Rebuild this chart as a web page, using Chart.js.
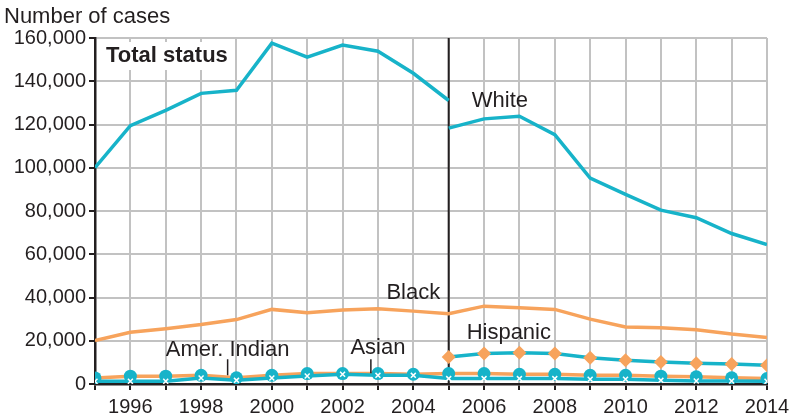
<!DOCTYPE html>
<html>
<head>
<meta charset="utf-8">
<script src="https://cdn.jsdelivr.net/npm/chart.js@4/dist/chart.umd.min.js"></script>
<style>
  html, body { margin: 0; padding: 0; background: #fff; }
  #wrap { width: 800px; height: 415px; }
</style>
</head>
<body>
<div id="wrap"><canvas id="casos"></canvas></div>
<script>
// Años del eje x
const years = [1995, 1996, 1997, 1998, 1999, 2000, 2001, 2002, 2003, 2004, 2005,
               2006, 2007, 2008, 2009, 2010, 2011, 2012, 2013, 2014];

// White: serie antigua (hasta 2005) y nueva (desde 2005)
const whiteOld = [100000, 119500, 126500, 134400, 135800, 157600, 151100, 156700, 153900, 143700, 131100,
                  null, null, null, null, null, null, null, null, null];
const whiteNew = [null, null, null, null, null, null, null, null, null, null, 118300,
                  122600, 123800, 115300, 95200, 87700, 80400, 76900, 69600, 64500];
const black = [20100, 23900, 25600, 27500, 29800, 34500, 32900, 34200, 34800, 33700, 32500,
               36000, 35300, 34500, 30000, 26400, 26000, 25100, 23100, 21500];
const hispanic = [null, null, null, null, null, null, null, null, null, null, 12500,
                  14100, 14400, 14100, 12100, 11000, 10200, 9600, 9300, 8700];
const asian = [2800, 3600, 3600, 4000, 2900, 4000, 4800, 4800, 4800, 4500, 4800,
               4800, 4500, 4500, 4000, 4000, 3600, 3300, 2900, 2500];
const amerIndian = [1250, 1250, 1250, 2800, 1700, 2800, 3700, 4500, 4000, 4000, 2500,
                    2500, 2500, 2500, 2200, 2200, 1700, 1400, 1400, 1250];

// Ticks del eje y
const yTicks = [0, 20000, 40000, 60000, 80000, 100000, 120000, 140000, 160000];

const cian = '#17b3c9';
const naranja = '#f7a35c';
const texto = '#231f20';

// Convierte una serie en puntos {x, y}
function puntos(vals) {
    return years.map((yr, i) => ({ x: yr, y: vals[i] })).filter(p => p.y !== null);
}

// Etiquetas de texto y línea de corte en 2005
const anotaciones = {
    id: 'anotaciones',
    beforeDatasetsDraw(chart) {
        const { ctx, chartArea, scales: { x, y } } = chart;
        // línea vertical del cambio de serie
        ctx.save();
        ctx.strokeStyle = texto;
        ctx.lineWidth = 2;
        ctx.beginPath();
        ctx.moveTo(x.getPixelForValue(2005), chartArea.top);
        ctx.lineTo(x.getPixelForValue(2005), chartArea.bottom);
        ctx.stroke();
        ctx.restore();
    },
    afterDraw(chart) {
        const { ctx, scales: { x, y } } = chart;
        ctx.save();
        ctx.fillStyle = texto;
        ctx.textBaseline = 'middle';
        ctx.textAlign = 'left';

        ctx.font = '22px "Liberation Sans", Arial, sans-serif';
        ctx.fillText('Number of cases', 4, 17);

        // "Total status" con fondo blanco
        ctx.font = 'bold 22px "Liberation Sans", Arial, sans-serif';
        const w = ctx.measureText('Total status').width;
        ctx.fillStyle = '#fff';
        ctx.fillRect(104, 42, w + 6, 28);
        ctx.fillStyle = texto;
        ctx.fillText('Total status', 106, 56);

        ctx.font = '22px "Liberation Sans", Arial, sans-serif';
        ctx.textAlign = 'center';
        ctx.fillText('White', x.getPixelForValue(2006.45), y.getPixelForValue(131000));
        ctx.fillText('Black', x.getPixelForValue(2004.0), y.getPixelForValue(42000));
        ctx.fillText('Hispanic', x.getPixelForValue(2006.7), y.getPixelForValue(23500));
        ctx.fillText('Amer. Indian', x.getPixelForValue(1998.75), y.getPixelForValue(15700));
        ctx.fillText('Asian', x.getPixelForValue(2003.0), y.getPixelForValue(16500));

        // líneas indicadoras
        ctx.strokeStyle = texto;
        ctx.lineWidth = 1.5;
        ctx.beginPath();
        ctx.moveTo(x.getPixelForValue(1998.75), y.getPixelForValue(11500));
        ctx.lineTo(x.getPixelForValue(1998.75), y.getPixelForValue(4000));
        ctx.moveTo(x.getPixelForValue(2002.8), y.getPixelForValue(11500));
        ctx.lineTo(x.getPixelForValue(2002.8), y.getPixelForValue(5000));
        ctx.stroke();
        ctx.restore();
    }
};

const datos = {
    datasets: [
        {
            label: 'Amer. Indian',
            data: puntos(amerIndian),
            borderColor: cian,
            borderWidth: 3.5,
            pointStyle: 'crossRot',
            pointRadius: 3.5,
            pointBorderColor: '#fff',
            pointBorderWidth: 1.5,
            order: 1
        },
        {
            label: 'Asian',
            data: puntos(asian),
            borderColor: naranja,
            borderWidth: 3.5,
            pointStyle: 'circle',
            pointRadius: 6.5,
            pointBackgroundColor: cian,
            pointBorderColor: cian,
            pointBorderWidth: 0,
            order: 2
        },
        {
            label: 'Hispanic',
            data: puntos(hispanic),
            borderColor: cian,
            borderWidth: 3.5,
            pointStyle: 'rectRot',
            pointRadius: 7,
            pointBackgroundColor: naranja,
            pointBorderColor: naranja,
            pointBorderWidth: 0,
            order: 3
        },
        {
            label: 'Black',
            data: puntos(black),
            borderColor: naranja,
            borderWidth: 3.5,
            pointRadius: 0,
            order: 4
        },
        {
            label: 'White (old)',
            data: puntos(whiteOld),
            borderColor: cian,
            borderWidth: 3.5,
            pointRadius: 0,
            order: 5
        },
        {
            label: 'White (new)',
            data: puntos(whiteNew),
            borderColor: cian,
            borderWidth: 3.5,
            pointRadius: 0,
            order: 5
        }
    ]
};

const opciones = {
    responsive: true,
    maintainAspectRatio: false,
    animation: false,
    layout: { padding: { top: 38, right: 33, left: 0, bottom: 0 } },
    plugins: {
        legend: { display: false },
        tooltip: { enabled: false }
    },
    elements: { line: { tension: 0 } },
    scales: {
        x: {
            type: 'linear',
            min: 1995,
            max: 2014,
            afterFit: (s) => { s.height = 31; },
            afterBuildTicks: (s) => { s.ticks = years.map(v => ({ value: v })); },
            ticks: {
                autoSkip: false,
                maxRotation: 0,
                color: texto,
                padding: 5,
                font: { size: 20, family: '"Liberation Sans", Arial, sans-serif' },
                callback: (v) => (v % 2 === 0 ? String(v) : '')
            },
            grid: { color: '#c2c2c2', lineWidth: 2, tickColor: texto, tickLength: 6, tickWidth: 2 },
            border: { color: texto, width: 2.5 }
        },
        y: {
            min: 0,
            max: 160000,
            afterFit: (s) => { s.width = 95; },
            afterBuildTicks: (s) => { s.ticks = yTicks.map(v => ({ value: v })); },
            ticks: {
                color: texto,
                padding: 3,
                font: { size: 20, family: '"Liberation Sans", Arial, sans-serif' },
                callback: (v) => v.toLocaleString('en-US')
            },
            grid: { color: '#c2c2c2', lineWidth: 2, tickColor: texto, tickLength: 6, tickWidth: 2 },
            border: { color: texto, width: 2.5 }
        }
    }
};

const grafica = new Chart(document.getElementById('casos'), {
    type: 'line',
    data: datos,
    options: opciones,
    plugins: [anotaciones]
});
</script>
</body>
</html>
